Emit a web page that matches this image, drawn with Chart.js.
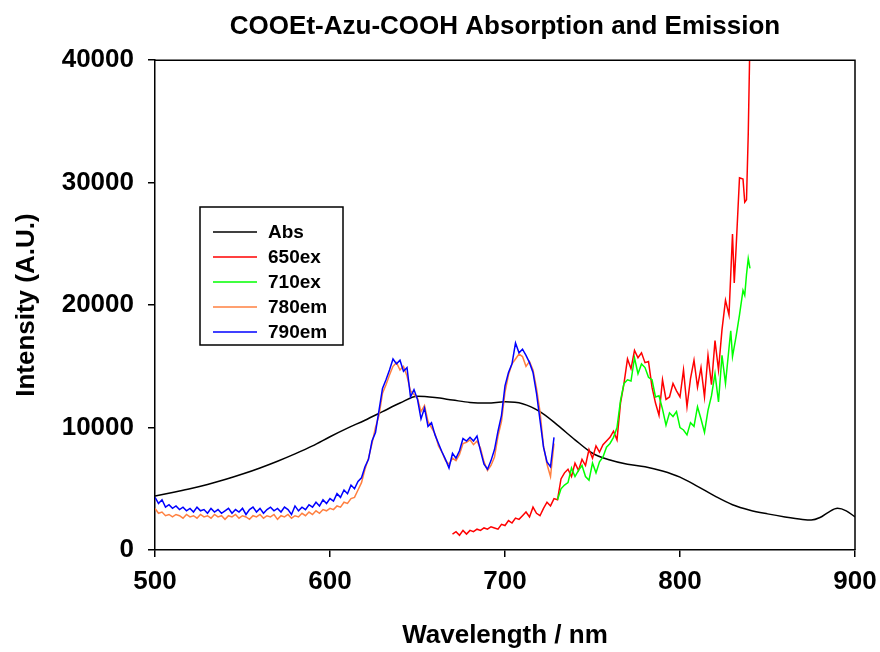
<!DOCTYPE html>
<html>
<head>
<meta charset="utf-8">
<script src="https://cdn.jsdelivr.net/npm/chart.js@4/dist/chart.umd.min.js"></script>
<style>
  html, body { margin: 0; padding: 0; background: #fff; }
  #c { display: block; }
</style>
</head>
<body>
<canvas id="c" width="880" height="652"></canvas>
<script>
// ---------- DATA ----------
const chartTitle = "COOEt-Azu-COOH Absorption and Emission";
const xAxisTitle = "Wavelength / nm";
const yAxisTitle = "Intensity (A.U.)";
const xTickValues = [500, 600, 700, 800, 900];
const yTickValues = [0, 10000, 20000, 30000, 40000];
const seriesNames = ["Abs", "650ex", "710ex", "780em", "790em"];

const absWl = [500,510,520,530,540,550,560,570,580,590,600,610,620,630,640,650,660,670,680,690,700,710,720,730,740,750,760,770,780,790,800,810,820,830,840,850,860,870,875,880,885,890,895,900];
const absVal = [4400,4700,5000,5350,5750,6200,6700,7250,7850,8500,9250,9950,10600,11300,12000,12550,12450,12250,12050,12000,12100,11950,11300,10200,9000,7900,7350,7000,6800,6450,5950,5200,4400,3700,3250,2950,2700,2500,2450,2650,3100,3400,3200,2700];

const ex650Wl = [670,672,674,676,678,680,682,684,686,688,
                 690,692,694,696,698,700,702,704,706,708,
                 710,712,714,716,718,720,722,724,726,728,
                 730,732,734,736,738,740,742,744,746,748,
                 750,752,754,756,758,760,762,764,766,768,
                 770,772,774,776,778,780,782,784,786,788,
                 790,792,794,796,798,800,802,804,806,808,
                 810,812,814,816,818,820,822,824,826,828,
                 830,831,832,834,836,837,838,839,840];
const ex650Val = [1300,1500,1200,1600,1300,1600,1500,1700,1600,1800,
                  1700,1900,1800,1700,2100,2000,2400,2200,2600,2500,
                  2800,3100,2700,3500,3000,2800,3400,3900,3600,4200,
                  4100,5800,6300,6600,6000,7100,6500,7400,6900,8200,
                  7500,8500,8000,8600,8900,9200,9700,9000,12000,13600,
                  15600,14800,16300,15700,16100,15300,15400,13300,12000,11000,
                  13900,12300,12500,13600,13000,12500,14700,11700,14000,15500,
                  13300,14900,12500,15900,13500,17100,14700,18000,20400,19200,
                  25800,21800,24500,30400,30300,28400,28600,34000,42000];

const ex710Wl = [730,732,734,736,738,740,742,744,746,748,
                 750,752,754,756,758,760,762,764,766,768,
                 770,772,774,776,778,780,782,784,786,788,
                 790,792,794,796,798,800,802,804,806,808,
                 810,812,814,816,818,820,822,824,826,828,
                 829,830,832,834,836,837,838,839,840];
const ex710Val = [4100,5000,5300,5500,6700,6000,6500,6900,6000,5700,
                  7100,6300,7200,7600,8400,8700,9200,10000,12200,13600,
                  13900,13800,15700,14400,15200,14900,14100,13900,12500,12600,
                  11500,10200,11200,10900,11300,10000,9800,9400,10400,10100,
                  11700,10700,9600,11400,12600,14400,12100,15900,13600,16500,
                  17900,15800,17400,19200,21200,20800,22500,23800,23000];

const emWl = [500,502,504,506,508,510,512,514,516,518,
              520,522,524,526,528,530,532,534,536,538,
              540,542,544,546,548,550,552,554,556,558,
              560,562,564,566,568,570,572,574,576,578,
              580,582,584,586,588,590,592,594,596,598,
              600,602,604,606,608,610,612,614,616,618,
              620,622,624,626,628,630,632,634,636,638,
              640,642,644,646,648,650,652,654,656,658,
              660,662,664,666,668,670,672,674,676,678,
              680,682,684,686,688,690,692,694,696,698,
              700,702,704,706,708,710,712,714,716,718,
              720,722,724,726,728];
const em780Val = [3400,3000,3100,2800,2900,2700,2900,2800,2600,2900,
                  2700,2800,2600,2900,2700,2800,2600,2900,2700,2800,
                  2500,2800,2700,2900,2600,2800,2700,2500,2800,2700,
                  2900,2600,2800,2700,2900,2500,2800,2700,2900,2600,
                  2800,2700,3000,2800,3100,2900,3200,3000,3300,3200,
                  3400,3300,3600,3500,3900,3800,4200,4300,4900,5500,
                  6600,7500,8700,10000,11000,12800,13500,14300,15000,15300,
                  14700,15000,14200,13000,12700,12400,11300,11800,10500,10000,
                  9500,8500,8000,7300,7000,7500,7300,7800,8700,8800,
                  9000,8600,8900,8300,7200,6500,6900,7600,9300,10500,
                  12900,14300,15200,15600,16000,15800,15000,15400,14700,13200,
                  11300,8500,7000,6000,8700];
const em790Val = [4300,3800,4100,3500,3700,3400,3600,3300,3500,3200,
                  3400,3100,3500,3200,3300,3000,3400,3100,3300,3000,
                  3200,3400,3000,3300,3100,3400,2900,3300,3500,3100,
                  3400,3000,3300,3500,3200,3400,3100,3500,3300,2900,
                  3600,3200,3500,3300,3700,3500,3900,3600,4100,3800,
                  4200,4000,4600,4300,4900,4600,5300,5000,5600,5900,
                  6800,7400,8900,9600,11400,13200,13900,14700,15600,15200,
                  15500,14600,14900,12500,13100,12300,10700,11600,10100,10400,
                  9400,8700,8000,7400,6700,7900,7500,8100,9100,8900,
                  9200,8900,9300,8100,7000,6600,7300,8200,9700,11000,
                  13400,14500,15200,16900,16100,16400,15900,15300,14500,12800,
                  10600,8400,7200,6800,9200];

// ---------- CHART ----------
const FONT = '"Liberation Sans", Arial, Helvetica, sans-serif';
Chart.defaults.font.family = FONT;
Chart.defaults.color = '#000';

function pts(xs, ys) { return xs.map((x, i) => ({ x: x, y: ys[i] })); }

const frameAndLegend = {
  id: 'frameAndLegend',
  afterDatasetsDraw(chart) {
    const ctx = chart.ctx;
    const a = chart.chartArea;
    ctx.save();
    ctx.strokeStyle = '#000';
    ctx.lineWidth = 1.5;
    ctx.beginPath();
    ctx.moveTo(a.left, a.top);
    ctx.lineTo(a.right, a.top);
    ctx.lineTo(a.right, a.bottom);
    ctx.stroke();

    // legend
    const bx = 200, by = 207, bw = 143, bh = 138;
    ctx.fillStyle = '#fff';
    ctx.fillRect(bx, by, bw, bh);
    ctx.lineWidth = 1.5;
    ctx.strokeStyle = '#000';
    ctx.strokeRect(bx, by, bw, bh);
    ctx.font = 'bold 19px ' + FONT;
    ctx.textBaseline = 'middle';
    ctx.textAlign = 'left';
    chart.data.datasets.forEach((ds, i) => {
      const y = by + 25 + i * 25;
      ctx.strokeStyle = ds.borderColor;
      ctx.lineWidth = 1.5;
      ctx.beginPath();
      ctx.moveTo(bx + 13, y);
      ctx.lineTo(bx + 57, y);
      ctx.stroke();
      ctx.fillStyle = '#000';
      ctx.fillText(ds.label, bx + 68, y + 1);
    });
    ctx.restore();
  }
};

const lineDefaults = { showLine: true, pointRadius: 0, borderWidth: 1.5, fill: false };

new Chart(document.getElementById('c'), {
  type: 'scatter',
  data: {
    datasets: [
      Object.assign({ label: seriesNames[0], data: pts(absWl, absVal), borderColor: '#000000', cubicInterpolationMode: 'monotone', order: 5 }, lineDefaults),
      Object.assign({ label: seriesNames[1], data: pts(ex650Wl, ex650Val), borderColor: '#ff0000', order: 4 }, lineDefaults),
      Object.assign({ label: seriesNames[2], data: pts(ex710Wl, ex710Val), borderColor: '#00ff00', order: 3 }, lineDefaults),
      Object.assign({ label: seriesNames[3], data: pts(emWl, em780Val), borderColor: '#ff8040', order: 2 }, lineDefaults),
      Object.assign({ label: seriesNames[4], data: pts(emWl, em790Val), borderColor: '#0000ff', order: 1 }, lineDefaults)
    ]
  },
  options: {
    responsive: false,
    animation: false,
    devicePixelRatio: 1,
    layout: { padding: { left: 0, right: 25, top: 0, bottom: 0 } },
    plugins: {
      legend: { display: false },
      tooltip: { enabled: false },
      title: {
        display: true,
        text: chartTitle,
        fullSize: false,
        color: '#000',
        font: { size: 26, weight: 'bold', family: FONT },
        padding: { top: 11, bottom: 18 }
      }
    },
    scales: {
      x: {
        type: 'linear',
        min: 500, max: 900,
        afterBuildTicks: (s) => { s.ticks = xTickValues.map(v => ({ value: v })); },
        afterFit: (s) => { s.height = 102; s.paddingLeft = 0; s.paddingRight = 0; },
        border: { display: true, color: '#000', width: 1.5 },
        grid: { display: true, drawOnChartArea: false, drawTicks: true, tickLength: 7, color: '#000', lineWidth: 1.5 },
        ticks: { color: '#000', font: { size: 26, weight: 'bold' }, padding: 9, maxRotation: 0, callback: (v) => String(v) },
        title: { display: true, text: xAxisTitle, color: '#000', font: { size: 26, weight: 'bold' }, padding: { top: 0, bottom: 1 } }
      },
      y: {
        type: 'linear',
        min: 0, max: 40000,
        afterBuildTicks: (s) => { s.ticks = yTickValues.map(v => ({ value: v })); },
        afterFit: (s) => { s.width = 155; s.paddingTop = 0; s.paddingBottom = 0; },
        border: { display: true, color: '#000', width: 1.5 },
        grid: { display: true, drawOnChartArea: false, drawTicks: true, tickLength: 7, color: '#000', lineWidth: 1.5 },
        ticks: { color: '#000', font: { size: 26, weight: 'bold' }, padding: 14, callback: (v) => String(v) },
        title: { display: true, text: yAxisTitle, color: '#000', font: { size: 26, weight: 'bold' }, padding: { top: 11, bottom: 0 } }
      }
    }
  },
  plugins: [frameAndLegend]
});
</script>
</body>
</html>
